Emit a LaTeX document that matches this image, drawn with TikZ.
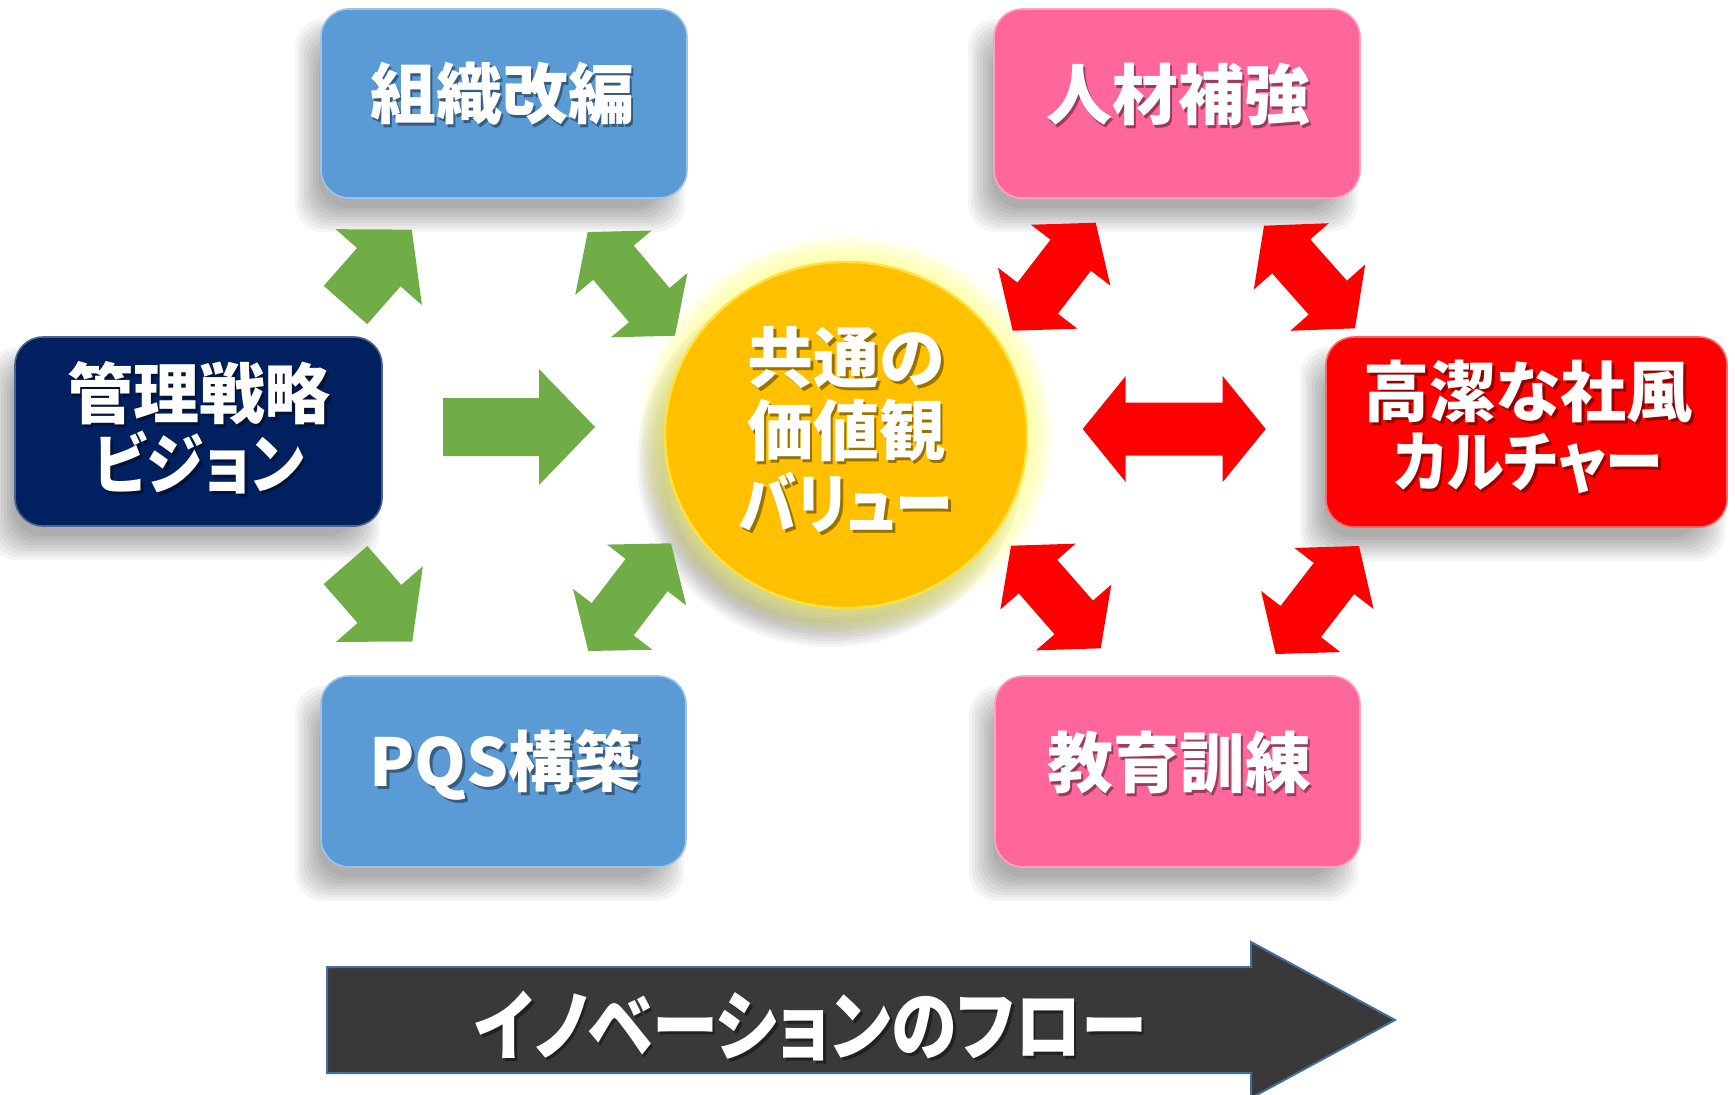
\documentclass[tikz,border=0pt]{standalone}
\usepackage{graphicx}
\usepackage{fontspec}
\newfontfamily\jp{Noto Sans CJK JP}[RawFeature=+palt]
\usetikzlibrary{calc,shapes.geometric}
\definecolor{boxblue}{HTML}{5B9BD5}
\definecolor{boxpink}{HTML}{FF6699}
\definecolor{boxnavy}{HTML}{002060}
\definecolor{boxred}{HTML}{FF0000}
\definecolor{sun}{HTML}{FFC000}
\definecolor{sunrim}{HTML}{FFE040}
\definecolor{glow}{HTML}{FFFF70}
\definecolor{arrgreen}{HTML}{70AD47}
\definecolor{arrred}{HTML}{FF0000}
\definecolor{flowfill}{HTML}{3A3838}
\definecolor{flowline}{HTML}{41719C}

% block arrows between named coordinates
\newcommand\singlearrow[6]{%
  \coordinate (hb) at ($(#3)!#6!(#2)$);
  \fill[#1] ($(#2)!#4!90:(#3)$) -- ($(hb)!#4!90:(#3)$) -- ($(hb)!#5!90:(#3)$) -- (#3)
    -- ($(hb)!#5!-90:(#3)$) -- ($(hb)!#4!-90:(#3)$) -- ($(#2)!#4!-90:(#3)$) -- cycle;}
\newcommand\doublearrow[6]{%
  \coordinate (ha) at ($(#2)!#6!(#3)$);
  \coordinate (hb) at ($(#3)!#6!(#2)$);
  \fill[#1] (#2) -- ($(ha)!#5!90:(#3)$) -- ($(ha)!#4!90:(#3)$) -- ($(hb)!#4!90:(#3)$)
    -- ($(hb)!#5!90:(#3)$) -- (#3) -- ($(hb)!#5!-90:(#3)$) -- ($(hb)!#4!-90:(#3)$)
    -- ($(ha)!#4!-90:(#3)$) -- ($(ha)!#5!-90:(#3)$) -- cycle;}
% soft shadow of a box
\newcommand\softshadow[4]{%
  \foreach \i in {-12,-9,...,12}{%
    \fill[black, opacity=0.04, rounded corners=14pt]
      (#1-14-\i, #2+22-\i) rectangle (#3-14+\i, #4+22+\i);}}
% white text with drop shadow
\newcommand\shtext[4][]{%
  \node[lbl,#1,text=black,opacity=0.4,xshift=1.4pt,yshift=-1.4pt] (#2s) at (#3) {#4};
  \node[lbl,#1] (#2) at (#3) {#4};}
\newcommand\kana[1]{\scalebox{0.88}[1]{#1}}

\begin{document}
\begin{tikzpicture}[x=0.5pt,y=-0.5pt,
  boxbase/.style={rectangle, rounded corners=14pt, inner sep=0pt, line width=0.8pt},
  bluebox/.style={boxbase, fill=boxblue, draw=boxblue!60!white},
  pinkbox/.style={boxbase, fill=boxpink, draw=boxpink!60!white},
  navybox/.style={boxbase, fill=boxnavy, draw=boxnavy!70!white},
  redbox/.style={boxbase, fill=boxred, draw=boxred!60!white},
  sunnode/.style={ellipse, fill=sun, draw=sunrim, line width=1.2pt, minimum width=181pt, minimum height=173pt, inner sep=0pt},
  greenarrow/.style={fill=arrgreen},
  redarrow/.style={fill=arrred},
  flowarrow/.style={fill=flowfill, draw=flowline, line width=1pt},
  lbl/.style={font=\jp\bfseries\fontsize{33}{36}\selectfont, text=white, align=center, inner sep=0pt},
  twoline/.style={font=\jp\bfseries\fontsize{33}{35}\selectfont},
  threeline/.style={font=\jp\bfseries\fontsize{33}{36.5}\selectfont},
  flowtext/.style={font=\jp\bfseries\fontsize{38.5}{40}\selectfont}]

\fill[white] (0,0) rectangle (1735,1094);
\useasboundingbox (0,0) rectangle (1735,1094);

% ---------- shadows ----------
\softshadow{321}{9}{687}{198}
\softshadow{994}{9}{1360}{198}
\softshadow{15}{337}{382}{526}
\softshadow{1326}{337}{1727}{527}
\softshadow{321}{676}{686}{867}
\softshadow{995}{676}{1360}{867}
\foreach \i in {-12,-9,...,12}{%
  \fill[black, opacity=0.04] (830,462) ellipse [x radius={(181+\i)*0.5pt}, y radius={(173+\i)*0.5pt}];}
% glow of the circle
\foreach \i in {26,23,...,2}{%
  \fill[glow, opacity=0.09] (846,435) ellipse [x radius={(181+\i)*0.5pt}, y radius={(173+\i)*0.5pt}];}

% ---------- boxes ----------
\node[bluebox, minimum width=183pt, minimum height=94.5pt] (org) at (504,103.5) {};
\node[pinkbox, minimum width=183pt, minimum height=94.5pt] (hr) at (1177,103.5) {};
\node[navybox, minimum width=183.5pt, minimum height=94.5pt] (mgmt) at (198.5,431.5) {};
\node[redbox, minimum width=200.5pt, minimum height=95pt] (cult) at (1526.5,432) {};
\node[bluebox, minimum width=182.5pt, minimum height=95.5pt] (pqs) at (503.5,771.5) {};
\node[pinkbox, minimum width=182.5pt, minimum height=95.5pt] (edu) at (1177.5,771.5) {};
\node[sunnode] (val) at (846,435) {};

% ---------- connectors ----------
\coordinate (g1t) at (345.5,305);   \coordinate (g1h) at (411.8,229.6);
\coordinate (g3t) at (345.5,565);   \coordinate (g3h) at (412.3,641.7);
\coordinate (gbt) at (443,427);     \coordinate (gbh) at (595,427);
\coordinate (g2a) at (587.7,232.1); \coordinate (g2b) at (675,335.7);
\coordinate (g4a) at (588.3,651);   \coordinate (g4b) at (671,543.3);
\coordinate (r1a) at (1012.7,330.7);\coordinate (r1b) at (1095.7,222.7);
\coordinate (r2a) at (1264,225.7);  \coordinate (r2b) at (1355,328.3);
\coordinate (r3a) at (1011,545.7);  \coordinate (r3b) at (1100.7,648.3);
\coordinate (r4a) at (1275.7,654);  \coordinate (r4b) at (1359,546);
\coordinate (rha) at (1082.7,429);  \coordinate (rhb) at (1265.7,429);

\singlearrow{greenarrow}{g1t}{g1h}{14.5pt}{28.75pt}{25pt}
\singlearrow{greenarrow}{g3t}{g3h}{14.5pt}{28.75pt}{25pt}
\singlearrow{greenarrow}{gbt}{gbh}{14.5pt}{29pt}{28pt}
\doublearrow{greenarrow}{g2a}{g2b}{13.25pt}{25pt}{20pt}
\doublearrow{greenarrow}{g4a}{g4b}{13.25pt}{25pt}{20pt}
\doublearrow{redarrow}{r1a}{r1b}{12.75pt}{25pt}{20.5pt}
\doublearrow{redarrow}{r2a}{r2b}{12.75pt}{25pt}{20.5pt}
\doublearrow{redarrow}{r3a}{r3b}{12.75pt}{25pt}{20.5pt}
\doublearrow{redarrow}{r4a}{r4b}{12.75pt}{25pt}{20.5pt}
\doublearrow{redarrow}{rha}{rhb}{13.25pt}{26.5pt}{21.5pt}

% ---------- flow arrow ----------
\draw[flowarrow] (327,967) -- (1251,967) -- (1251,942) -- (1395,1020) -- (1251,1098)
  -- (1251,1073) -- (327,1073) -- cycle;

% ---------- texts ----------
\shtext{torg}{502,94}{組織改編}
\shtext{thr}{1178,95}{人材補強}
\shtext[twoline]{tmgmt}{199,427.5}{管理戦略\\\kana{ビジョン}}
\shtext[twoline]{tcult}{1528,427}{高潔な社風\\\kana{カルチャー}}
\shtext[threeline]{tval}{846,430}{共通の\\価値観\\\kana{バリュー}}
\shtext{tpqs}{505,765}{PQS構築}
\shtext{tedu}{1179,763}{教育訓練}
\shtext[flowtext]{tflow}{810.5,1026}{\scalebox{0.86}[1]{イノベーションのフロー}}
\end{tikzpicture}
\end{document}
